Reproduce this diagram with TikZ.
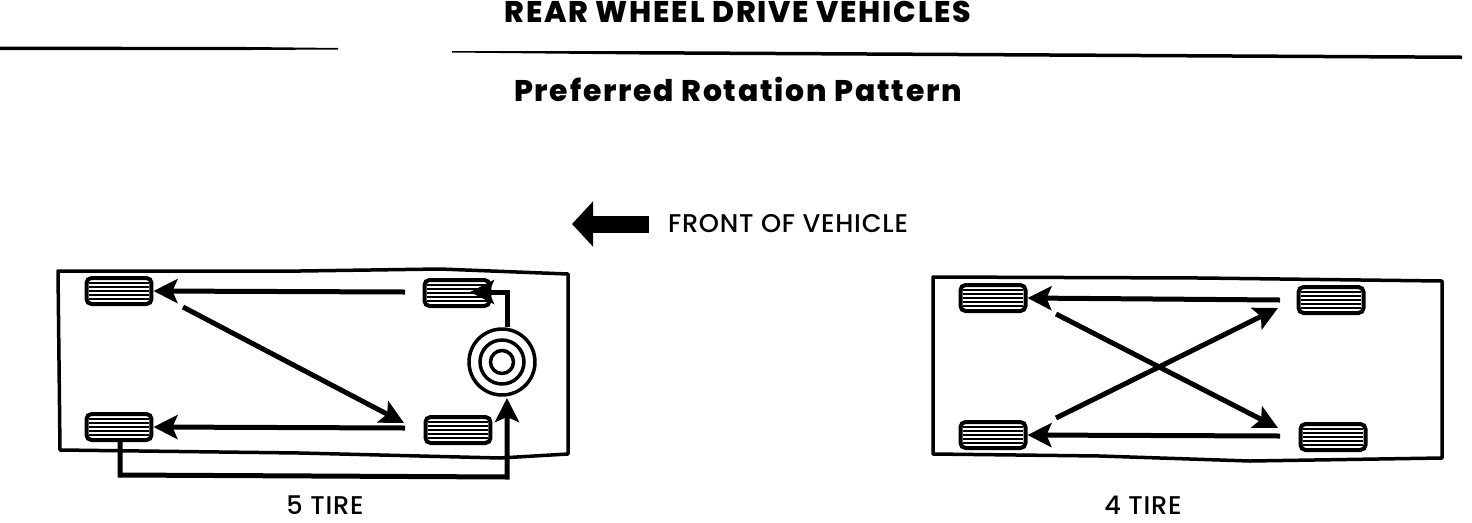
\documentclass[tikz,border=0pt]{standalone}
\usepackage{fontspec}
\setmainfont{Poppins}[LetterSpace=0]
\newfontfamily\headfont{Poppins}[BoldFont=* ExtraBold, LetterSpace=6]
\newfontfamily\capfont{Poppins Medium}[LetterSpace=3]
\usetikzlibrary{arrows.meta}

\tikzset{
  body/.style={line width=0.07cm, line join=round},
  tire/.style={draw, line width=0.08cm, rounded corners=0.1cm, minimum width=1.3cm, minimum height=0.52cm, inner sep=0pt},
  post/.style={line width=0.1cm, -{Stealth[length=0.48cm, width=0.48cm, inset=0.1cm]}},
  trail/.style={line width=0.1cm},
  stripe/.style={line width=0.05cm},
  rim/.style={circle, draw, line width=0.07cm, inner sep=0pt},
  heading/.style={font=\fontsize{17}{20}\headfont\bfseries},
  caption/.style={font=\fontsize{14.6}{17}\capfont, inner sep=0pt}
}

\begin{document}
\begin{tikzpicture}[x=0.02cm, y=-0.02cm]
   \useasboundingbox (0,0) rectangle (1472,522);

   % headings
   \node [heading] (title) at (738,12) {REAR WHEEL DRIVE VEHICLES};
   \node [heading] (sub) at (738,89) {Preferred Rotation Pattern};
   \fill (0,46.5) -- (250,47) -- (338,48) -- (338,49.5) -- (250,50) -- (0,50) -- cycle;
   \fill (452,51) -- (640,51) -- (1462,55.5) -- (1462,59) -- (640,54.5) -- (452,52.5) -- cycle;

   % front arrow
   \node [caption] (front) at (788,224) {FRONT OF VEHICLE};
   \coordinate (fronttail) at (649,224);
   \coordinate (fronttip) at (572,224);
   \draw [line width=0.34cm, -{Triangle[length=0.42cm, width=0.88cm]}] (fronttail) -- (fronttip);

   % car bodies
   \draw [body] (58,271) -- (300,271) -- (440,269) -- (568,274) -- (568,454) -- (500,458) -- (300,453) -- (60,450) -- cycle;
   \draw [body] (933,277) -- (1200,278) -- (1442,281) -- (1442,458) -- (1250,461) -- (1100,456) -- (933,454) -- cycle;

   % tires
   \foreach \x/\y/\t in {119/291/A, 457/293/B, 119/427/C, 458/430/D, 993/298/E, 1331/300/F, 993/435/G, 1333/437/H}
     {
     \foreach \k in {-8,-4,0,4,8}
       \draw [stripe] (\x-30,\y+\k) -- (\x+30,\y+\k);
     \node [tire] (w\t) at (\x,\y) {};
     }

   % spare
   \node [rim, minimum size=1.32cm] (spare) at (502,362) {};
   \node [rim, minimum size=0.88cm] at (spare) {};
   \node [rim, minimum size=0.46cm] at (spare) {};

   % 5 tire arrows
   \coordinate (a1) at (405,292);
   \coordinate (a2) at (405,428);
   \coordinate (a3) at (183,307);
   \coordinate (a4) at (404,423);
   \coordinate (a5) at (507,292);
   \coordinate (a6) at (120,475);
   \coordinate (a7) at (507,477);
   \coordinate (a8) at (507,398);
   \draw [post] (a1) -- (wA.east);
   \draw [post] (a2) -- (wC.east);
   \draw [post] (a3) -- (a4);
   \draw [trail, -{Stealth[length=0.48cm, width=0.48cm, inset=0.1cm]}] (a5 |- spare.north) -- (a5) -- (470,292);
   \draw [trail, -{Stealth[length=0.48cm, width=0.48cm, inset=0.1cm]}] (wC.south -| a6) -- (a6) -- (a7) -- (a8);

   % 4 tire arrows
   \coordinate (b1) at (1280,300);
   \coordinate (b2) at (1280,436);
   \coordinate (b3) at (1056,314);
   \coordinate (b4) at (1278,428);
   \coordinate (b5) at (1056,418);
   \coordinate (b6) at (1278,308);
   \draw [post] (b1) -- (wE.east);
   \draw [post] (b2) -- (wG.east);
   \draw [post] (b3) -- (b4);
   \draw [post] (b5) -- (b6);

   \node [caption] (five) at (325,505) {5 TIRE};
   \node [caption] (four) at (1143,505) {4 TIRE};
\end{tikzpicture}
\end{document}
